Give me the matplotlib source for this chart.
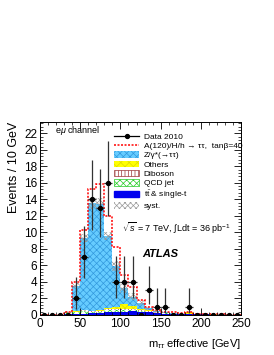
import numpy as np
import matplotlib
matplotlib.use('Agg')
import matplotlib.pyplot as plt
from matplotlib.patches import Patch
from matplotlib.lines import Line2D
from matplotlib.ticker import MultipleLocator

plt.rcParams['font.family'] = ['Liberation Sans', 'DejaVu Sans']
plt.rcParams['mathtext.fontset'] = 'custom'
plt.rcParams['mathtext.rm'] = 'Liberation Sans'
plt.rcParams['mathtext.it'] = 'Liberation Sans:italic'
plt.rcParams['hatch.linewidth'] = 0.5

# 10 GeV bins, 0-250 GeV
edges = np.arange(0, 260, 10)
centers = edges[:-1] + 5

data = [0, 0, 0, 0, 2, 7, 14, 13, 16, 4, 4, 4, 0, 3, 1, 1, 0, 0, 1, 0, 0, 0, 0, 0, 0]
# asymmetric Poisson errors
err_lo = [0, 0, 0, 0, 1.29, 2.58, 3.69, 3.54, 3.96, 1.91, 1.91, 1.91, 0, 1.63, 0.83, 0.83,
          0, 0, 0.83, 0, 0, 0, 0, 0, 0]
err_hi = [0, 0, 0, 0, 2.64, 3.77, 4.81, 4.67, 5.08, 3.16, 3.16, 3.16, 0, 2.92, 2.30, 2.30,
          0, 0, 2.30, 0, 0, 0, 0, 0, 0]

ttbar = [0, 0, 0, 0.10, 0.10, 0.15, 0.20, 0.20, 0.35, 0.40, 0.40, 0.45, 0.40, 0.30, 0.25,
         0.15, 0.10, 0.08, 0.10, 0.05, 0.05, 0.03, 0.03, 0.02, 0.02]
qcd = [0, 0, 0, 0.20, 0.25, 0.35, 0.20, 0.20, 0.20, 0.15, 0.15, 0.10, 0.05, 0.05, 0.03,
       0.02, 0, 0, 0, 0, 0, 0, 0, 0, 0]
diboson = [0, 0, 0, 0.02, 0.05, 0.05, 0.08, 0.10, 0.15, 0.15, 0.20, 0.20, 0.15, 0.10, 0.08,
           0.05, 0.04, 0.03, 0.03, 0.02, 0.02, 0.01, 0.01, 0.01, 0.01]
others = [0, 0, 0, 0, 0.02, 0.03, 0.05, 0.08, 0.15, 0.25, 0.55, 0.30, 0.15, 0.10, 0.05,
          0.03, 0.02, 0.02, 0.20, 0.02, 0.01, 0.01, 0, 0, 0]
ztautau = [0, 0, 0, 0.05, 3.1, 8.7, 13.0, 12.9, 8.7, 5.0, 1.9, 1.15, 0.75, 0.25, 0.10,
           0.05, 0.03, 0.03, 0.03, 0.02, 0.02, 0.01, 0.01, 0.01, 0.01]
syst = [0, 0, 0, 0.10, 0.30, 0.50, 0.65, 0.65, 0.50, 0.60, 0.50, 0.40, 0.30, 0.20, 0.10,
        0.08, 0.05, 0.04, 0.05, 0.02, 0.02, 0.01, 0.01, 0.01, 0.01]
signal_total = [0, 0, 0, 0.40, 4.0, 10.3, 15.2, 15.8, 12.0, 8.2, 4.8, 3.4, 1.8, 1.0, 0.6,
                0.4, 0.3, 0.2, 0.4, 0.1, 0.1, 0.05, 0.05, 0.03, 0.03]

fig = plt.figure(figsize=(2.74, 3.55), dpi=100)
ax = fig.add_axes([0.146, 0.113, 0.734, 0.544])

# stacked backgrounds, bottom to top
components = [
    (ttbar, dict(facecolor='#0000ee', edgecolor='#0000ee', hatch=None)),
    (qcd, dict(facecolor='white', edgecolor='#22cc22', hatch='xxxxx')),
    (diboson, dict(facecolor='white', edgecolor='#993333', hatch='|||||')),
    (others, dict(facecolor='#ffff00', edgecolor='#dddd00', hatch='xxxx')),
    (ztautau, dict(facecolor='#66ccff', edgecolor='#3399dd', hatch='xxxxx')),
]
bottom = np.zeros(len(centers))
for vals, style in components:
    vals = np.array(vals)
    ax.bar(edges[:-1], vals, width=10, bottom=bottom, align='edge', linewidth=0, **style)
    bottom = bottom + vals
total = bottom

# systematic band
syst = np.array(syst)
ax.bar(edges[:-1], 2 * syst, width=10, bottom=total - syst, align='edge',
       facecolor='none', edgecolor='#999999', hatch='xxxxxx', linewidth=0)

# signal + background
ax.stairs(signal_total, edges, color='red', linestyle=(0, (1.3, 1.0)), linewidth=1.1)

# data
ax.errorbar(centers, data, yerr=[err_lo, err_hi], xerr=5, fmt='o', color='black',
            ecolor='#333333', markersize=2.8, elinewidth=0.9, capsize=0, zorder=5)

ax.set_xlim(0, 250)
ax.set_ylim(0, 23.4)
ax.xaxis.set_major_locator(MultipleLocator(50))
ax.xaxis.set_minor_locator(MultipleLocator(10))
ax.yaxis.set_major_locator(MultipleLocator(2))
ax.yaxis.set_minor_locator(MultipleLocator(0.4))
ax.tick_params(which='both', direction='in', top=True, right=True, labelsize=8.5, pad=2)
ax.tick_params(which='major', length=5, width=0.6)
ax.tick_params(which='minor', length=2.5, width=0.5)
for s in ax.spines.values():
    s.set_linewidth(0.7)

ax.set_xlabel(r'm$_{\tau\tau}$ effective [GeV]', fontsize=8, loc='right', labelpad=5)
ax.set_ylabel('Events / 10 GeV', fontsize=9, loc='top', labelpad=3)

ax.text(0.075, 0.955, r'e$\mu$ channel', transform=ax.transAxes, fontsize=6.5, va='center')
ax.text(0.41, 0.45, r'$\sqrt{s}$ = 7 TeV, $\int$Ldt = 36 pb$^{-1}$',
        transform=ax.transAxes, fontsize=6.5, va='center')
ax.text(0.51, 0.315, 'ATLAS', transform=ax.transAxes, fontsize=8, fontweight='bold',
        style='italic', va='center')

handles = [
    Line2D([], [], color='black', marker='o', markersize=2.8, linewidth=0.9),
    Line2D([], [], color='red', linestyle=(0, (1.3, 1.0)), linewidth=1.1),
    Patch(facecolor='#66ccff', edgecolor='#3399dd', hatch='xxxxx', linewidth=0),
    Patch(facecolor='#ffff00', edgecolor='#dddd00', hatch='xxxx', linewidth=0),
    Patch(facecolor='white', edgecolor='#993333', hatch='|||||', linewidth=0.5),
    Patch(facecolor='white', edgecolor='#22cc22', hatch='xxxxx', linewidth=0.5),
    Patch(facecolor='#0000ee', edgecolor='#0000ee'),
    Patch(facecolor='white', edgecolor='#999999', hatch='xxxxxx', linewidth=0),
]
labels = ['Data 2010', 'A(120)/H/h \u2192 \u03c4\u03c4,  tan\u03b2=40',
          'Z/\u03b3*(\u2192\u03c4\u03c4)', 'Others', 'Diboson', 'QCD jet',
          r't$\bar{\rm t}$ & single-t', 'syst.']
leg = ax.legend(handles, labels, loc='upper left', bbox_to_anchor=(0.37, 0.944),
                frameon=False, fontsize=6, handlelength=3.0, handleheight=0.8,
                labelspacing=0.15, handletextpad=0.5, borderaxespad=0, borderpad=0)
leg.set_clip_on(False)

fig.savefig('out.png', dpi=100)
